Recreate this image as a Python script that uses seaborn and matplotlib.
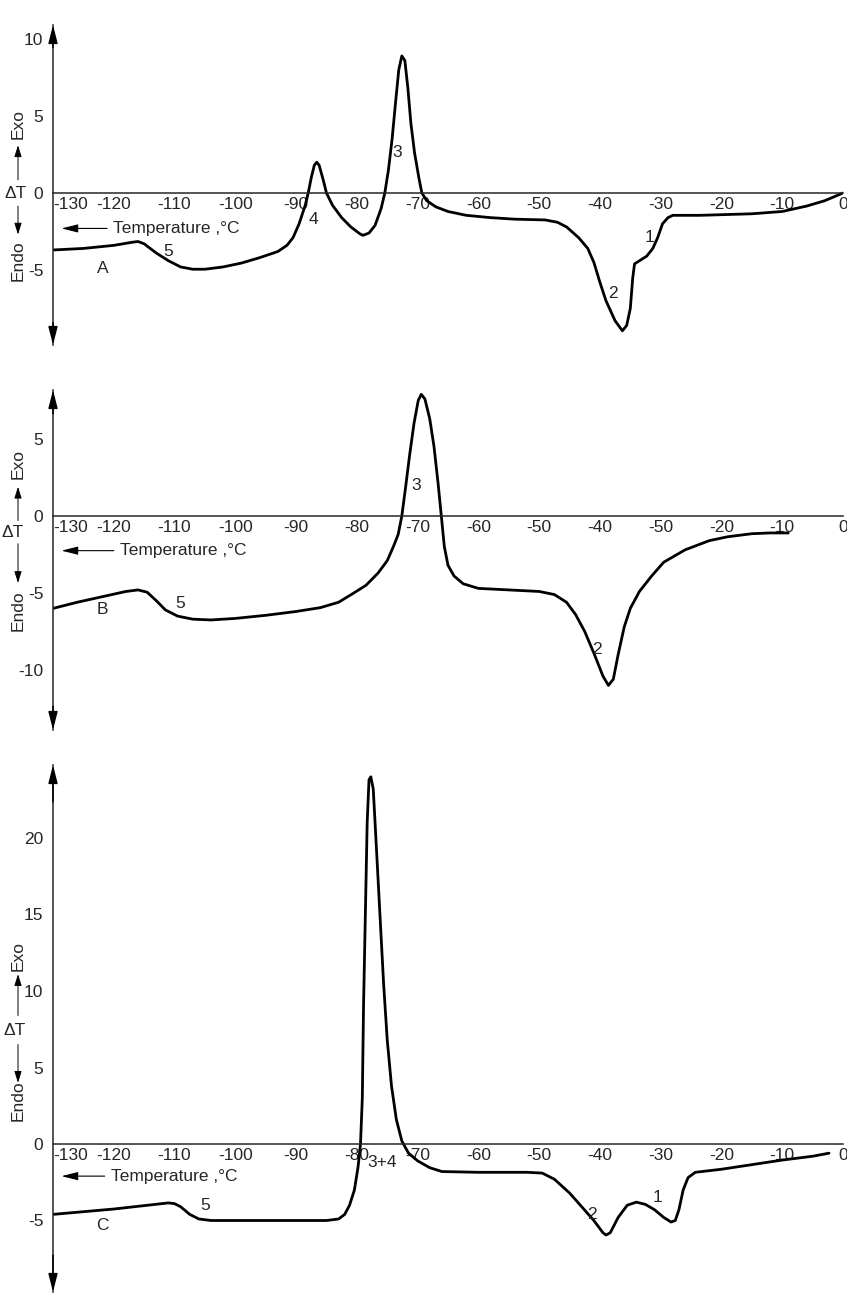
import numpy as np
import pandas as pd
import matplotlib
matplotlib.use("Agg")
import matplotlib.pyplot as plt
import matplotlib.transforms as mtransforms
import seaborn as sns

#%% Curve data (temperature in degC, delta T)
tempA = [-130, -125, -120, -117, -116, -115, -113, -111, -109, -107, -105, -102, -99, -96,
         -93, -91.5, -90.5, -89.5, -88.5, -88, -87.5, -87, -86.6, -86.2, -85.5, -85, -84,
         -82.5, -81, -79.5, -79, -78, -77, -76, -75.4, -74.8, -74.2, -73.6, -73.1, -72.6,
         -72.1, -71.6, -71.1, -70.5, -69.8, -69.3, -68.5, -67, -65, -62, -58, -54, -49,
         -47, -45.5, -43.5, -42, -41, -40, -39, -37.5, -36.3, -35.6, -35, -34.6, -34.3,
         -33.5, -32.3, -31.3, -30.5, -29.7, -28.8, -28, -23.6, -15, -10, -6, -3, 0]
dtA = [-3.7, -3.6, -3.4, -3.2, -3.15, -3.3, -3.9, -4.4, -4.8, -4.95, -4.95, -4.8, -4.55, -4.2,
       -3.8, -3.4, -2.9, -2.0, -0.8, 0.0, 1.0, 1.8, 2.0, 1.8, 0.8, 0.0, -0.8,
       -1.6, -2.2, -2.65, -2.75, -2.6, -2.1, -1.0, 0.0, 1.5, 3.5, 6.0, 8.0, 8.9,
       8.6, 6.8, 4.5, 2.6, 1.0, 0.0, -0.5, -0.9, -1.2, -1.45, -1.6, -1.7, -1.75,
       -1.9, -2.2, -2.9, -3.6, -4.5, -5.8, -7.0, -8.3, -8.95, -8.6, -7.5, -5.5, -4.6,
       -4.4, -4.1, -3.6, -2.9, -2.0, -1.6, -1.45, -1.45, -1.35, -1.2, -0.85, -0.5, 0.0]

tempB = [-130, -126, -122, -118, -116, -114.5, -113, -111.5, -109.5, -107, -104, -100, -95,
         -90, -86, -83, -80.5, -78.5, -76.5, -75, -74, -73.2, -72.6, -72.0, -71.3, -70.6,
         -69.9, -69.4, -68.8, -68.0, -67.3, -66.6, -66.1, -65.6, -65, -64, -62.5, -60, -55,
         -50, -47.5, -45.5, -44, -42.5, -41, -39.5, -38.6, -37.8, -37, -36, -35, -33.5,
         -31.5, -29.5, -26, -22, -19, -15, -12, -9]
dtB = [-6.0, -5.6, -5.25, -4.9, -4.8, -4.95, -5.5, -6.1, -6.5, -6.7, -6.75, -6.65, -6.45,
       -6.2, -5.95, -5.6, -5.0, -4.5, -3.7, -2.9, -2.0, -1.2, 0.0, 1.8, 4.0, 6.0,
       7.5, 7.9, 7.6, 6.3, 4.5, 2.0, 0.0, -2.0, -3.2, -3.9, -4.4, -4.7, -4.8,
       -4.9, -5.1, -5.6, -6.4, -7.5, -8.9, -10.4, -11.0, -10.6, -9.0, -7.2, -6.0, -4.9,
       -3.9, -3.0, -2.2, -1.6, -1.35, -1.15, -1.1, -1.1]

tempC = [-130, -120, -111, -110, -109, -107.5, -106, -104, -95, -85, -83, -82, -81.2, -80.4,
         -79.8, -79.4, -79.1, -78.9, -78.6, -78.3, -78.0, -77.7, -77.3, -76.8, -76.2, -75.6,
         -75.0, -74.3, -73.5, -72.6, -71.5, -70, -68, -66, -60, -52, -49.5, -47.5, -45,
         -43, -41, -39.5, -39, -38.3, -37, -35.5, -34, -32.5, -31, -29.5, -28.3, -27.6,
         -27.0, -26.3, -25.5, -24.3, -20, -15, -10, -5, -2.3]
dtC = [-4.6, -4.25, -3.85, -3.9, -4.1, -4.6, -4.9, -5.0, -5.0, -5.0, -4.9, -4.6, -4.0, -3.0,
       -1.5, 0.0, 3.0, 9.0, 15.0, 21.0, 23.8, 24.0, 23.2, 19.5, 15.0, 10.5,
       6.8, 3.8, 1.6, 0.2, -0.6, -1.1, -1.55, -1.8, -1.85, -1.85, -1.9, -2.3, -3.2,
       -4.1, -5.0, -5.8, -5.95, -5.8, -4.8, -4.0, -3.8, -3.95, -4.3, -4.8, -5.1, -5.0,
       -4.3, -3.0, -2.2, -1.85, -1.65, -1.35, -1.05, -0.8, -0.6]

#%% Tick labels (panel B carries the misprinted "-50" in place of -30)
xTicks = list(range(-130, 1, 10))
xLabelsA = ["-130", "-120", "-110", "-100", "-90", "-80", "-70", "-60", "-50", "-40",
            "-30", "-20", "-10", "0"]
xLabelsB = ["-130", "-120", "-110", "-100", "-90", "-80", "-70", "-60", "-50", "-40",
            "-50", "-20", "-10", "0"]
xLabelsC = xLabelsA
yTicksA = [10, 5, 0, -5]
yTicksB = [5, 0, -5, -10]
yTicksC = [20, 15, 10, 5, 0, -5]

#%% Peak labels: (text, temperature, delta T)
notesA = [("A", -121.8, -4.9), ("5", -111, -3.8), ("4", -87.2, -1.7), ("3", -73.4, 2.6),
          ("2", -37.8, -6.5), ("1", -31.8, -2.9)]
notesB = [("B", -121.8, -6.1), ("5", -109, -5.7), ("3", -70.2, 1.95), ("2", -40.5, -8.7)]
notesC = [("C", -121.8, -5.3), ("5", -105, -4.0), ("3+4", -75.8, -1.2), ("2", -41.3, -4.6),
          ("1", -30.5, -3.5)]

#%% Figure
sns.set_style("white")
plt.rcParams["font.family"] = ["Liberation Sans", "DejaVu Sans"]
plt.rcParams["axes.unicode_minus"] = False

W, H = 847, 1295
fig = plt.figure(figsize=(W / 100, H / 100), dpi=100)

X0, X1 = 53, 843
FS = 12.5


def make_axes(top_px, bottom_px, zero_px, px_per_unit):
    rect = [X0 / W, 1 - bottom_px / H, (X1 - X0) / W, (bottom_px - top_px) / H]
    ax = fig.add_axes(rect)
    ylim = (-(bottom_px - zero_px) / px_per_unit, (zero_px - top_px) / px_per_unit)
    return ax, ylim


def draw_panel(ax, ylim, temps, dts, xlabels, yticks, notes, tempLabelY, tempX, ylab):
    df = pd.DataFrame({"T": temps, "dT": dts})
    sns.lineplot(data=df, x="T", y="dT", ax=ax, color="black", lw=2.0,
                 estimator=None, sort=False)
    ax.set_xlabel("")
    ax.set_ylabel("")
    ax.set_xlim(-130, 0)
    ax.set_ylim(*ylim)
    ax.patch.set_alpha(0)
    for s in ["top", "right"]:
        ax.spines[s].set_visible(False)
    ax.spines["bottom"].set_position(("data", 0))
    ax.spines["left"].set_position(("data", -130))
    ax.spines["bottom"].set_linewidth(1.1)
    ax.spines["left"].set_linewidth(1.1)
    ax.set_xticks(xTicks)
    ax.set_xticklabels(xlabels)
    ax.set_yticks(yticks)
    ax.set_yticklabels([str(v) for v in yticks])
    ax.tick_params(axis="x", direction="in", length=7, width=0.7, color="#666666",
                   pad=3, labelsize=FS)
    ax.tick_params(axis="y", direction="in", length=11, width=0.8, pad=7, labelsize=FS)
    ax.get_xticklabels()[0].set_ha("left")

    # arrow heads on the vertical axis
    for y0, y1 in [(0.93, 1.0), (0.07, 0.0)]:
        ax.annotate("", xy=(0, y1), xytext=(0, y0), xycoords="axes fraction",
                    arrowprops=dict(arrowstyle="-|>,head_length=1.1,head_width=0.28",
                                    color="black", lw=1.1, shrinkA=0, shrinkB=0),
                    annotation_clip=False)

    # temperature direction arrow
    ax.annotate("Temperature ,°C", xy=(-128.6, tempLabelY), xytext=(tempX, tempLabelY),
                ha="left", va="center", fontsize=FS,
                arrowprops=dict(arrowstyle="-|>,head_length=0.8,head_width=0.2",
                                color="black", lw=0.8, shrinkA=2, shrinkB=0))

    for txt, t, v in notes:
        ax.text(t, v, txt, ha="center", va="center", fontsize=FS)

    # composite vertical label: Exo (up) / delta T / Endo (down)
    tr = mtransforms.blended_transform_factory(ax.transAxes, ax.transData)
    xs = (18 - X0) / (X1 - X0)
    xd = (ylab["dx"] - X0) / (X1 - X0)
    ax.text(xs, ylab["exo"], "Exo", rotation=90, ha="center", va="center",
            fontsize=FS, transform=tr)
    ax.text(xd, ylab["dt"], "ΔT", ha="center", va="center", fontsize=FS, transform=tr)
    ax.text(xs, ylab["endo"], "Endo", rotation=90, ha="center", va="center",
            fontsize=FS, transform=tr)
    for a, b in [ylab["up"], ylab["down"]]:
        ax.annotate("", xy=(xs, b), xytext=(xs, a), xycoords=tr, textcoords=tr,
                    arrowprops=dict(arrowstyle="-|>,head_length=0.7,head_width=0.22",
                                    color="black", lw=0.7, shrinkA=0, shrinkB=0),
                    annotation_clip=False)


axA, limA = make_axes(25, 345, 193, 15.4)
draw_panel(axA, limA, tempA, dtA, xLabelsA, yTicksA, notesA, -2.3, -120.1,
           dict(dx=16, exo=4.5, dt=0, endo=-4.4, up=(0.85, 3.1), down=(-0.85, -2.7)))

axB, limB = make_axes(390, 730, 516, 15.4)
draw_panel(axB, limB, tempB, dtB, xLabelsB, yTicksB, notesB, -2.25, -119.0,
           dict(dx=13, exo=3.35, dt=-1.05, endo=-6.15, up=(-0.3, 1.9), down=(-1.8, -4.35)))

axC, limC = make_axes(765, 1292, 1144, 15.3)
draw_panel(axC, limC, tempC, dtC, xLabelsC, yTicksC, notesC, -2.1, -120.5,
           dict(dx=15, exo=12.3, dt=7.45, endo=2.8, up=(8.4, 11.1), down=(6.5, 4.0)))

fig.savefig("out.png", dpi=100)
